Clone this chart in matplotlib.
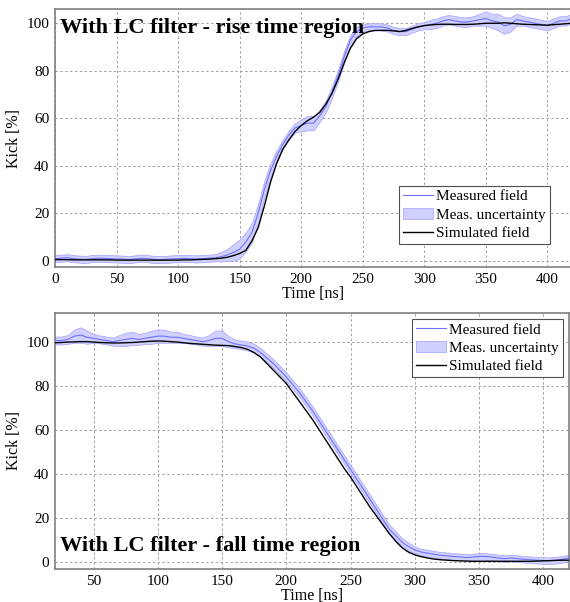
import numpy as np
import matplotlib
matplotlib.use('Agg')
import matplotlib.pyplot as plt

plt.rcParams['font.family'] = ['Liberation Serif', 'DejaVu Serif']

# ---- rise time region (top panel) ----
t_rise = np.arange(0, 421, 5)
meas_rise = [1.0, 1.2, 1.4, 1.0, 0.8, 0.7, 1.0, 1.2, 1.1, 1.0, 0.9, 0.8, 0.6, 0.9,
             1.2, 1.0, 0.7, 0.6, 0.7, 0.9, 1.0, 1.1, 1.0, 0.9, 1.0, 1.2, 1.4,
             1.8, 2.6, 3.6, 5.0, 8.0, 12, 20, 30, 38, 44, 49, 53, 56, 57, 58, 58,
             61, 65, 71, 78, 86, 93, 96.5, 98, 98.5, 98.5, 98.5, 98, 97, 96.5, 96.5,
             97.5, 98.5, 99, 99.5, 100, 101, 101.5, 101, 100.5, 100.5, 101, 101.5,
             102, 101, 100.5, 99, 99.5, 101.5, 101, 100.5, 100, 99.5, 99, 100, 101,
             101, 102]
unc_rise = [1.5] * 27 + [2, 2.5, 3.5, 4, 4, 4, 4, 3.5, 3, 2.5, 2, 2, 2, 2.5, 3, 3,
                         2.5, 2.5, 2.5, 2.5, 2.5, 2, 2, 1.5, 1.5, 1.5, 1.5, 1.5, 1.5,
                         1.5, 1.5, 1.5, 1.5, 1.5, 2, 2, 2, 2, 2, 2, 2, 2, 2.5, 3,
                         3, 3.5, 3.5, 3, 2.5, 2, 2, 2, 2, 2, 2, 2, 2, 2]
sim_rise = [0.6, 0.6, 0.6, 0.5, 0.5, 0.5, 0.5, 0.5, 0.5, 0.5, 0.4, 0.4, 0.4, 0.4,
            0.4, 0.4, 0.4, 0.4, 0.4, 0.4, 0.4, 0.5, 0.5, 0.6, 0.7, 0.8, 1.0,
            1.2, 1.6, 2.3, 3.2, 4.5, 8.5, 14, 23, 33, 41, 47, 51, 54.5, 57, 59,
            60.5, 62.5, 66, 70.5, 76.5, 83.5, 89.5, 93.5, 95.5, 96.5, 97, 97, 97,
            96.8, 96.5, 97, 97.8, 98.5, 99, 99.3, 99.5, 99.6, 99.6, 99.5, 99.5,
            99.5, 99.6, 99.8, 100, 100, 100, 100.2, 100, 99.8, 99.6, 99.5, 99.4,
            99.3, 99.2, 99.4, 99.6, 99.8, 100]

# ---- fall time region (bottom panel) ----
t_fall = np.arange(20, 421, 5)
meas_fall = [100.5, 100.5, 101, 102.5, 103, 102, 101.5, 101, 100.5, 100, 100.5,
             101, 101.5, 101, 101.5, 102, 102.5, 102.5, 102, 102, 101.5, 101,
             100.5, 100, 100.5, 101.5, 101.5, 100, 99, 98.5, 98, 97, 95, 92.5, 90,
             87, 84, 80.5, 77, 73, 69, 64.5, 60, 55.5, 51, 46.5, 42, 37.5, 33,
             28.5, 24, 19.5, 15, 12, 9, 7, 5.5, 4.5, 4, 3.5, 3, 2.8, 2.5, 2.3, 2,
             2.2, 2.5, 2.5, 2.2, 1.8, 1.5, 1.8, 1.5, 1.2, 1, 0.8, 0.6, 0.6, 0.8,
             1.2, 1.8]
unc_fall = [1.8, 1.8, 2, 3, 3.5, 3, 2, 1.8, 1.8, 1.8, 2.5, 3, 3, 2.5, 2.5, 3, 3,
            3, 2.5, 2.5, 2, 2, 1.8, 1.8, 2.5, 3.5, 3.5, 2.5, 2, 2, 2, 2, 2, 2,
            2, 2, 2, 2, 2, 2, 2, 2, 2, 2, 2, 2, 2, 2, 2, 2, 2, 2, 2, 2, 1.8, 1.8,
            1.5, 1.5, 1.5, 1.5, 1.5, 1.5, 1.5, 1.5, 1.5, 1.5, 1.5, 1.5, 1.5, 1.5,
            1.5, 1.5, 1.5, 1.5, 1.5, 1.5, 1.5, 1.5, 1.5, 1.5, 1.5]
sim_fall = [99.5, 99.6, 99.8, 99.9, 100, 100, 99.8, 99.6, 99.5, 99.4, 99.4, 99.5,
            99.6, 99.8, 100, 100.2, 100.3, 100.2, 100, 99.8, 99.5, 99.2, 99, 98.8,
            98.6, 98.4, 98.3, 98.2, 97.8, 97.3, 96.5, 95, 93, 90, 87, 84, 81, 77,
            73, 69, 65, 60.5, 56, 51.5, 47, 42.5, 38.5, 34, 29.5, 25, 21, 17, 13,
            9.5, 6.5, 4.5, 3.2, 2.4, 1.8, 1.3, 1, 0.8, 0.6, 0.5, 0.4, 0.3, 0.3,
            0.3, 0.3, 0.3, 0.3, 0.3, 0.3, 0.3, 0.3, 0.4, 0.5, 0.6, 0.7, 0.8, 0.8]

meas_col = '#6f6fff'
band_col = '#d0d0ff'
grid_col = '#a0a0a0'
spine_col = '#808080'


def draw_panel(ax, t, meas, unc, sim, xlim, ylim, xticks, title, title_y, leg_loc):
    meas = np.array(meas)
    unc = np.array(unc)
    ax.fill_between(t, meas - unc, meas + unc, color=band_col, edgecolor='#a0a0ff',
                    linewidth=0.5, label='Meas. uncertainty', zorder=2)
    ax.plot(t, meas, color=meas_col, linewidth=0.8, label='Measured field', zorder=3)
    ax.plot(t, sim, color='black', linewidth=1.0, label='Simulated field', zorder=4)
    ax.set_xlim(*xlim)
    ax.set_ylim(*ylim)
    ax.set_xticks(xticks)
    ax.set_yticks([0, 20, 40, 60, 80, 100])
    ax.grid(True, color=grid_col, linestyle=(0, (2.5, 2.5)), linewidth=0.7)
    ax.set_axisbelow(True)
    for s in ax.spines.values():
        s.set_color(spine_col)
        s.set_linewidth(1.2)
    ax.tick_params(length=0, labelsize=11, pad=4)
    ax.set_xlabel('Time [ns]', fontsize=11.5, labelpad=0)
    ax.set_ylabel('Kick [%]', fontsize=11.5, labelpad=3)
    ax.text(0.01, title_y, title, transform=ax.transAxes, fontsize=16,
            fontweight='bold', va='center', ha='left', zorder=6)
    h, lab = ax.get_legend_handles_labels()
    order = [lab.index('Measured field'), lab.index('Meas. uncertainty'),
             lab.index('Simulated field')]
    leg = ax.legend([h[i] for i in order], [lab[i] for i in order], loc=leg_loc,
                    fontsize=11, fancybox=False, framealpha=1, edgecolor='#505050',
                    handlelength=2.0, handletextpad=0.2, borderpad=0.25,
                    labelspacing=0.3, borderaxespad=0.4)
    leg.get_frame().set_linewidth(0.8)


fig = plt.figure(figsize=(5.7, 6.02), dpi=100)
W, H = 570.0, 602.0
ax1 = fig.add_axes([55 / W, (H - 267) / H, (572 - 55) / W, (267 - 9) / H])
ax2 = fig.add_axes([55 / W, (H - 569) / H, (569 - 55) / W, (569 - 313) / H])

draw_panel(ax1, t_rise, meas_rise, unc_rise, sim_rise, (0, 420), (-2.5, 106),
           [0, 50, 100, 150, 200, 250, 300, 350, 400],
           'With LC filter - rise time region', 0.925, (0.665, 0.09))
draw_panel(ax2, t_fall, meas_fall, unc_fall, sim_fall, (20, 420), (-3.2, 113),
           [50, 100, 150, 200, 250, 300, 350, 400],
           'With LC filter - fall time region', 0.09, 'upper right')

fig.savefig('out.png', dpi=100)
